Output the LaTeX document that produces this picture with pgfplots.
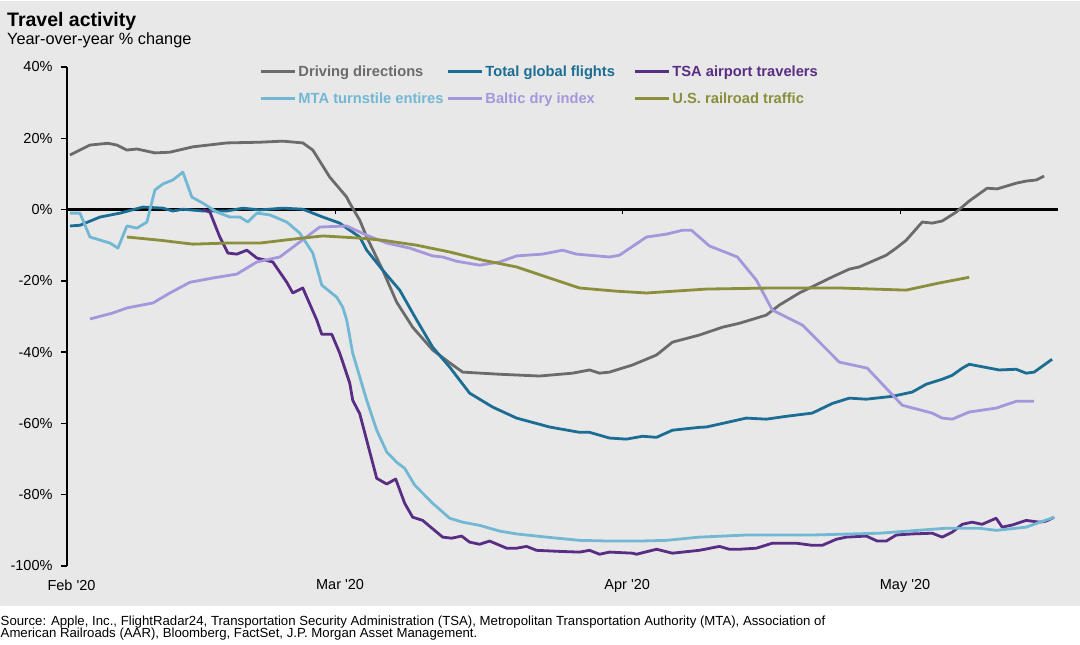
\documentclass[border=0pt]{standalone}
\usepackage{pgfplots}
\pgfplotsset{compat=1.18}
\usepackage{fontspec}
\setmainfont{Liberation Sans}
\definecolor{bg}{HTML}{E8E8E8}
\definecolor{cDrive}{HTML}{6B6B6B}
\definecolor{cFlight}{HTML}{1B6D93}
\definecolor{cTSA}{HTML}{5A2D84}
\definecolor{cMTA}{HTML}{72B8D4}
\definecolor{cBaltic}{HTML}{A597DB}
\definecolor{cRail}{HTML}{8B8E3A}
\begin{document}
\begin{tikzpicture}
\useasboundingbox (0,0) rectangle (1080bp,-645bp);
\fill[bg] (0,-1bp) rectangle (1080bp,-606bp);
\node[anchor=base west, inner sep=0pt, font=\fontsize{19.5bp}{22bp}\selectfont\bfseries] at (7bp,-26bp) {Travel activity};
\node[anchor=base west, inner sep=0pt, font=\fontsize{16.3bp}{19bp}\selectfont] at (7bp,-44.5bp) {Year-over-year \% change};
\node[anchor=base west, inner sep=0pt, align=left, font=\fontsize{13.2bp}{12.5bp}\selectfont] at (0.5bp,-637.5bp) {Source: Apple, Inc., FlightRadar24, Transportation Security Administration (TSA), Metropolitan Transportation Authority (MTA), Association of\\American Railroads (AAR), Bloomberg, FactSet, J.P. Morgan Asset Management.};
\begin{axis}[
 scale only axis, width=991bp, height=499bp,
 at={(67bp,-566bp)}, anchor=south west,
 xmin=0, xmax=107, ymin=-100, ymax=40,
 clip=false,
 axis x line*=bottom, axis y line*=left,
 x axis line style={draw=none},
 y axis line style={black, line width=1.8bp},
 xtick={0,29,60,90},
 xticklabels={{Feb \textquotesingle 20},{Mar \textquotesingle 20},{Apr \textquotesingle 20},{May \textquotesingle 20}},
 xtick style={draw=none},
 ytick={-100,-80,-60,-40,-20,0,20,40},
 yticklabels={-100\%,-80\%,-60\%,-40\%,-20\%,0\%,20\%,40\%},
 ytick style={black, line width=1.3bp},
 tick align=outside, major tick length=6bp,
 tick label style={font=\fontsize{14.5bp}{17bp}\selectfont, text=black},
 xticklabel style={xshift=4.5bp, yshift=-4bp},
 yticklabel style={xshift=-5bp},
 legend columns=3,
 legend cell align=left,
 legend style={at={(0.194,1.004)}, anchor=north west, draw=none, fill=none, inner sep=0pt,
   cells={anchor=base west},
   nodes={inner sep=0pt, text height=11bp, text depth=3bp, font=\fontsize{14.7bp}{17bp}\selectfont\bfseries},
   /tikz/every even column/.append style={column sep=4bp}, row sep=13bp},
 legend image code/.code={\draw[#1, line width=3bp] (0bp,5bp) -- (34bp,5bp);},
 ln/.style={line width=2.8bp, line join=round, mark=none},
]
\addplot[black, line width=2.4bp, forget plot] coordinates {(0,0) (107,0)};
\draw[black, line width=1.3bp] (axis cs:29,0) -- ([yshift=-4bp]axis cs:29,0);
\draw[black, line width=1.3bp] (axis cs:60,0) -- ([yshift=-4bp]axis cs:60,0);
\draw[black, line width=1.3bp] (axis cs:90,0) -- ([yshift=-4bp]axis cs:90,0);

% Driving directions
\addplot[cDrive, ln] coordinates {
(0.32,15.3)(1.40,16.7)(2.48,18.1)(4.42,18.6)(5.39,18.1)(6.47,16.7)(7.55,17.0)(9.49,15.9)(11.11,16.1)(13.59,17.6)(17.26,18.7)(20.82,18.9)(23.30,19.2)(25.46,18.7)(26.54,16.7)(28.37,9.1)(30.20,3.5)(30.53,1.8)(31.61,-3.0)(32.36,-7.7)(34.09,-17)(35.60,-26)(37.32,-33)(39.48,-39.4)(41.32,-43)(42.72,-45.6)(46.71,-46.2)(51.02,-46.7)(54.58,-45.9)(56.42,-45)(57.50,-45.9)(58.58,-45.6)(61.06,-43.6)(63.65,-40.8)(65.37,-37.2)(68.28,-35.2)(70.77,-33)(72.60,-31.9)(75.51,-29.6)(76.91,-26.8)(79.07,-23.4)(82.63,-18.9)(84.47,-16.7)(85.54,-16.1)(88.46,-12.8)(89.54,-10.8)(90.61,-8.6)(92.34,-3.5)(93.42,-3.8)(94.50,-3.2)(96.01,-0.7)(97.41,2.4)(99.35,6)(100.43,5.8)(102.48,7.4)(103.56,8)(104.64,8.3)(105.50,9.4)
};
\addlegendentry{\textcolor{cDrive}{\makebox[146bp][l]{\hspace{2bp}Driving directions}}}

% Total global flights
\addplot[cFlight, ln] coordinates {
(0.32,-4.6)(1.40,-4.4)(3.56,-2.1)(5.72,-1.0)(8.20,0.7)(10.36,0.4)(11.43,-0.4)(12.51,0.1)(14.67,-0.4)(17.26,-0.4)(18.99,0.4)(20.82,-0.1)(23.30,0.4)(25.46,0.1)(27.62,-2.1)(29.45,-3.8)(30.20,-5.2)(31.61,-7.7)(32.36,-11.4)(34.09,-17)(35.92,-22.6)(37.76,-31)(39.48,-38.6)(41.32,-44.2)(43.47,-51.5)(45.95,-55.4)(48.54,-58.5)(52.10,-61)(55.34,-62.5)(56.42,-62.5)(58.58,-64.1)(60.41,-64.4)(62.14,-63.6)(63.65,-63.9)(65.37,-61.9)(68.28,-61.1)(69.04,-61)(73.35,-58.5)(75.51,-58.8)(77.67,-58)(80.47,-57.1)(82.63,-54.4)(84.47,-52.9)(86.30,-53.2)(89.10,-52.4)(91.26,-51.2)(92.77,-49)(94.50,-47.6)(95.58,-46.5)(96.66,-44.5)(97.41,-43.4)(100.65,-45)(102.48,-44.8)(103.56,-45.9)(104.42,-45.6)(106.36,-42)
};
\addlegendentry{\textcolor{cFlight}{\makebox[146bp][l]{\hspace{2bp}Total global flights}}}

% TSA airport travelers
\addplot[cTSA, ln] coordinates {
(14.67,0)(15.43,-0.7)(16.50,-7.7)(17.37,-12.2)(18.34,-12.5)(19.42,-11.4)(20.50,-13.6)(22.22,-14.7)(23.73,-20.4)(24.38,-23.4)(25.46,-22)(26.97,-31)(27.51,-35)(28.59,-35)(29.45,-40.3)(30.53,-48.7)(30.85,-53.5)(31.61,-57.3)(33.44,-75.4)(34.52,-77)(35.49,-75.6)(36.46,-82.4)(37.32,-86.3)(38.40,-87.2)(40.56,-91.9)(41.53,-92.2)(42.61,-91.6)(43.47,-93.3)(44.55,-93.9)(45.63,-93)(47.46,-95)(48.54,-95)(49.62,-94.5)(50.70,-95.6)(53.18,-95.9)(55.34,-96.1)(56.42,-95.6)(57.50,-96.7)(58.58,-96.1)(61.06,-96.4)(61.49,-96.7)(63.65,-95.3)(65.37,-96.4)(68.28,-95.6)(70.44,-94.5)(71.52,-95.3)(72.60,-95.3)(74.43,-95)(76.16,-93.6)(78.75,-93.6)(80.47,-94.2)(81.55,-94.2)(83.06,-92.5)(84.14,-91.9)(86.30,-91.6)(87.49,-93)(88.46,-93)(89.54,-91.3)(91.26,-91)(93.42,-90.8)(94.50,-91.9)(95.58,-90.5)(96.66,-88.3)(97.73,-87.7)(98.81,-88.3)(100.32,-86.6)(100.97,-89.1)(102.05,-88.5)(103.56,-87.2)(104.96,-87.7)(105.72,-87.4)(106.58,-86.3)
};
\addlegendentry{\textcolor{cTSA}{\makebox[146bp][l]{\hspace{2bp}TSA airport travelers}}}

% MTA turnstile entries
\addplot[cMTA, ln] coordinates {
(0.32,-1)(1.40,-1)(2.48,-7.7)(4.64,-9.4)(5.50,-10.8)(6.47,-4.6)(7.55,-5.2)(8.63,-3.5)(9.49,5.5)(10.36,7.2)(11.43,8.3)(12.51,10.5)(13.48,3.5)(14.67,1.8)(16.18,-0.7)(17.58,-2.1)(18.66,-2.1)(19.53,-3.5)(20.50,-1)(21.90,-1.5)(23.73,-3.5)(25.13,-6.6)(26.54,-12.2)(27.51,-21.2)(29.13,-24.6)(29.77,-27.4)(30.20,-31)(30.85,-40.3)(32.36,-53.5)(33.44,-61.9)(34.52,-68)(35.60,-70.9)(36.46,-72.6)(37.54,-77.3)(39.48,-82.4)(41.32,-86.6)(42.72,-87.7)(44.55,-88.6)(46.71,-90.2)(48.54,-91)(51.78,-91.9)(55.34,-92.8)(58.58,-93)(61.81,-93)(64.72,-92.8)(68.28,-91.9)(73.35,-91.3)(80.47,-91.3)(87.70,-90.8)(94.93,-89.4)(98.49,-89.4)(100.32,-90)(103.56,-89.1)(106.58,-86.3)
};
\addlegendentry{\textcolor{cMTA}{\makebox[146bp][l]{\hspace{2bp}MTA turnstile entires}}}

% Baltic dry index
\addplot[cBaltic, ln] coordinates {
(2.48,-30.7)(4.96,-29)(6.47,-27.6)(9.28,-26.2)(11.11,-23.4)(13.27,-20.4)(15.75,-19.2)(18.34,-18.1)(20.50,-14.7)(22.98,-13.3)(25.13,-9.1)(27.29,-4.9)(30.20,-4.6)(32.36,-7.2)(34.52,-9.4)(37.00,-10.8)(39.48,-13)(40.56,-13.3)(42.07,-14.5)(44.55,-15.6)(46.71,-14.7)(48.54,-13)(51.35,-12.5)(53.51,-11.4)(55.02,-12.5)(58.58,-13.3)(59.65,-12.8)(62.57,-7.7)(64.72,-6.9)(66.45,-5.8)(67.42,-5.8)(69.36,-10.2)(72.38,-13.3)(74.43,-19.8)(76.16,-28.2)(79.40,-32.4)(83.39,-42.8)(86.41,-44.5)(90.18,-54.9)(93.42,-57.1)(94.50,-58.5)(95.58,-58.8)(97.41,-56.8)(100.32,-55.7)(102.48,-53.8)(104.42,-53.8)
};
\addlegendentry{\textcolor{cBaltic}{\makebox[146bp][l]{\hspace{2bp}Baltic dry index}}}

% U.S. railroad traffic
\addplot[cRail, ln] coordinates {
(6.47,-7.7)(10.03,-8.6)(13.59,-9.7)(17.26,-9.4)(20.82,-9.4)(24.38,-8.3)(27.62,-7.4)(31.61,-8)(34.09,-8.6)(37.76,-10)(41.32,-11.9)(44.88,-14.2)(48.54,-16.1)(52.10,-19.2)(55.34,-22)(59.33,-22.9)(62.57,-23.4)(69.04,-22.3)(76.16,-22)(83.39,-22)(90.61,-22.6)(94.17,-20.6)(97.41,-19)
};
\addlegendentry{\textcolor{cRail}{\makebox[146bp][l]{\hspace{2bp}U.S. railroad traffic}}}
\end{axis}
\end{tikzpicture}
\end{document}
